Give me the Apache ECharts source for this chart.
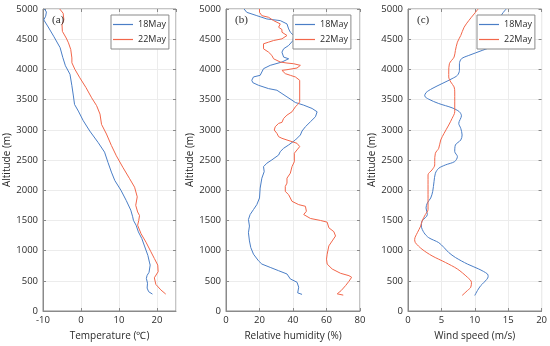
<!DOCTYPE html>
<html>
<head>
<meta charset="utf-8">
<script src="https://cdn.jsdelivr.net/npm/echarts@6/dist/echarts.min.js"></script>
<style>html,body{margin:0;padding:0;background:#fff}#c{width:550px;height:346px}</style>
</head>
<body>
<div id="c"></div>
<script>
// ---- Data (altitude in m) ----
var seriesNames = ['18May', '22May'];
var altTicks = [0, 500, 1000, 1500, 2000, 2500, 3000, 3500, 4000, 4500, 5000];

// (a) Temperature
var tempAlt18 = [5000,4950,4880,4820,4720,4550,4360,4200,4060,3920,3730,3560,3420,3310,3150,2980,2790,2630,2460,2300,2160,2000,1830,1670,1560,1500,1420,1310,1200,1060,920,810,760,640,590,540,460,380,320,280];
var temp18    = [-9.6,-9.1,-9.3,-9.8,-8.8,-7.2,-5.5,-4.8,-4.1,-2.9,-2.4,-2.0,-1.7,-0.7,0.6,2.3,4.5,6.2,7.1,8.0,8.9,10.5,11.9,13.1,13.6,13.8,14.5,15.1,16.0,16.8,17.6,18.0,18.2,17.9,17.4,17.2,17.5,17.4,17.8,18.8];
var tempAlt22 = [5000,4930,4820,4740,4630,4520,4440,4330,4190,4110,4000,3860,3700,3530,3400,3260,3090,2930,2740,2570,2380,2190,2050,1890,1750,1640,1580,1500,1420,1280,1140,980,870,760,650,550,440,350,280];
var temp22    = [-5.6,-4.7,-4.5,-5.0,-4.9,-3.9,-3.3,-2.7,-2.4,-2.4,-1.6,-0.3,1.3,2.8,4.1,5.0,5.4,6.7,8.0,9.3,11.0,12.8,14.1,14.8,14.4,14.9,15.4,15.2,14.9,15.8,17.1,18.4,19.3,20.2,20.3,19.3,19.7,21.0,22.3];

// (b) Relative humidity
var rhAlt18 = [5000,4945,4890,4835,4808,4753,4670,4616,4561,4478,4396,4341,4286,4204,4176,4122,4067,4012,3902,3875,3820,3781,3737,3682,3655,3600,3545,3490,3452,3408,3353,3298,3271,3216,3133,3051,2980,2914,2831,2749,2694,2639,2582,2557,2502,2447,2390,2308,2199,2035,1871,1761,1679,1597,1515,1406,1296,1160,1050,941,831,777,722,667,613,531,476,394,300,275];
var rh18    = [10.8,12.4,18.4,24.4,32.4,36.4,37.4,38.4,40.4,40.0,37.4,34.4,33.4,34.4,37.4,33.4,26.4,22.4,20.4,16.4,15.4,16.0,19.4,25.4,30.4,33.4,36.4,39.4,41.4,46.4,51.4,54.4,55.0,53.4,50.4,47.4,45.4,44.4,41.4,37.4,34.4,32.4,31.4,30.4,27.4,24.4,22.4,22.8,21.4,20.4,20.0,18.4,16.4,14.4,13.4,14.0,13.4,14.0,14.8,16.4,19.4,21.4,26.4,31.4,36.4,38.4,42.4,43.4,42.8,45.4];
var rhAlt22 = [5000,4945,4890,4863,4808,4780,4753,4698,4660,4616,4561,4506,4478,4451,4424,4396,4341,4286,4231,4176,4122,4105,4094,4067,4023,3995,3984,3930,3902,3875,3820,3463,3419,3380,3298,3243,3188,3123,3106,3051,2996,2941,2886,2859,2831,2804,2776,2722,2667,2612,2472,2390,2281,2199,2117,2062,1980,1925,1871,1816,1761,1734,1652,1597,1532,1499,1471,1378,1313,1242,1160,1078,941,859,777,695,624,585,558,492,421,339,284,263];
var rh22    = [20.0,20.0,21.4,25.4,28.4,29.4,32.4,31.4,33.4,33.4,36.4,33.4,28.4,25.4,22.4,21.4,22.4,25.4,27.4,28.4,32.4,36.4,40.4,44.4,42.4,36.4,33.4,35.4,38.4,41.4,44.0,44.0,42.8,41.4,39.4,36.4,34.4,33.4,31.4,29.4,28.8,30.4,31.4,33.4,36.4,39.4,42.4,44.0,42.4,40.8,40.8,39.4,38.4,36.4,36.4,35.4,35.4,37.4,38.4,39.4,43.4,47.4,48.0,46.4,50.4,56.4,60.4,61.4,64.4,65.4,63.4,61.4,60.4,60.0,60.4,63.4,68.4,73.4,75.0,73.4,71.4,68.8,66.4,70.0];

// (c) Wind speed
var wsAlt18 = [5000,4918,4808,4643,4478,4396,4314,4231,4176,4094,3984,3902,3847,3765,3682,3616,3562,3507,3435,3364,3298,3232,3106,3024,2914,2831,2749,2639,2557,2475,2418,2363,2281,2144,1980,1871,1789,1707,1597,1488,1406,1296,1214,1132,1050,968,886,777,695,613,569,476,421,339,257];
var ws18    = [14.7,14.1,13.6,13.4,13.4,12.9,11.1,9.1,8.0,7.7,7.7,7.4,6.6,5.1,3.6,2.7,2.5,3.1,4.6,6.6,7.7,8.0,7.6,7.9,8.1,7.9,7.1,7.0,7.4,7.0,5.6,4.6,4.1,3.9,3.7,3.4,2.9,2.7,2.9,2.1,2.0,2.4,3.1,4.6,5.4,6.1,7.1,8.9,10.6,11.9,12.0,11.4,10.9,10.4,10.0];
var wsAlt22 = [5000,4918,4808,4698,4561,4451,4314,4204,4094,3957,3875,3792,3710,3627,3298,3188,3079,2941,2831,2694,2612,2475,2418,2336,2254,1925,1679,1597,1488,1406,1296,1187,1132,1023,913,804,695,558,476,394,339,257];
var ws22    = [10.5,9.9,9.1,8.4,7.9,7.4,7.1,6.9,6.2,6.1,6.1,6.4,6.9,7.0,7.0,6.6,6.1,5.4,4.9,4.6,4.1,4.0,4.0,3.6,3.0,3.0,3.0,2.6,2.1,1.9,1.4,1.0,1.1,2.1,3.6,5.6,7.4,8.9,9.5,9.4,8.9,8.1];

var panelLabels = ['(a)', '(b)', '(c)'];
var xNames = ['Temperature (\u2103)', 'Relative humidity (%)', 'Wind speed (m/s)'];
var xMin = [-10, 0, 0], xMax = [25, 80, 20], xInt = [10, 20, 5];
var yName = 'Altitude (m)';

// ---- Build chart ----
function zip(v, a) { return v.map(function (x, i) { return [x, a[i]]; }); }
var BLUE = '#4a7ec6', RED = '#f2664a';
var gridLeft = [43, 226, 408], gridW = [133, 134, 134], gridTop = 9, gridH = 304;
var legendLeft = [111, 293, 477];
var font = 'Open Sans';
var axisCol = '#8a8a8a', txtCol = '#2b2b2b';
function plain(v) { return String(v); }

var grids = [], xAxes = [], yAxes = [], legends = [], graphics = [];
for (var i = 0; i < 3; i++) {
  grids.push({ left: gridLeft[i], top: gridTop, width: gridW[i], height: gridH, show: true, borderColor: axisCol, borderWidth: 1, backgroundColor: '#fff' });
  xAxes.push({
    type: 'value', gridIndex: i, min: xMin[i], max: xMax[i], interval: xInt[i], position: 'bottom',
    name: xNames[i], nameLocation: 'middle', nameGap: 20,
    nameTextStyle: { fontSize: 10, fontFamily: font, color: txtCol },
    axisLine: { show: true, onZero: false, lineStyle: { color: axisCol } },
    axisTick: { show: true, inside: true, length: 3, lineStyle: { color: axisCol } },
    axisLabel: { fontSize: 9.5, fontFamily: font, color: txtCol, margin: 4, showMaxLabel: i !== 0, formatter: plain },
    splitLine: { show: true, lineStyle: { color: '#ececec', width: 1 } }
  });
  yAxes.push({
    type: 'value', gridIndex: i, min: 0, max: 5000, interval: 500, position: 'left',
    name: yName, nameLocation: 'middle', nameGap: 27,
    nameTextStyle: { fontSize: 10, fontFamily: font, color: txtCol },
    axisLine: { show: true, onZero: false, lineStyle: { color: axisCol } },
    axisTick: { show: true, inside: true, length: 3, lineStyle: { color: axisCol } },
    axisLabel: { fontSize: 9.5, fontFamily: font, color: txtCol, margin: 5, formatter: plain },
    splitLine: { show: true, lineStyle: { color: '#ececec', width: 1 } }
  });
  legends.push({
    data: seriesNames, orient: 'vertical', left: legendLeft[i], top: 15,
    icon: 'rect', itemWidth: 20, itemHeight: 1.2, itemGap: 4, padding: [4, 3, 4, 2],
    borderColor: '#8a8a8a', borderWidth: 1, backgroundColor: '#fff',
    textStyle: { fontSize: 9, fontFamily: font, color: txtCol, lineHeight: 11 }
  });
  graphics.push({ type: 'text', left: gridLeft[i] + 9, top: 15, z: 10,
    style: { text: panelLabels[i], font: '11px "Liberation Serif"', fill: txtCol } });
}
// mirrored axes (top/right ticks, box style)
for (var j = 0; j < 3; j++) {
  xAxes.push({ type: 'value', gridIndex: j, min: xMin[j], max: xMax[j], interval: xInt[j], position: 'top',
    axisLine: { show: false, onZero: false }, axisTick: { show: true, inside: true, length: 3, lineStyle: { color: axisCol } },
    axisLabel: { show: false }, splitLine: { show: false } });
  yAxes.push({ type: 'value', gridIndex: j, min: 0, max: 5000, interval: 500, position: 'right',
    axisLine: { show: false, onZero: false }, axisTick: { show: true, inside: true, length: 3, lineStyle: { color: axisCol } },
    axisLabel: { show: false }, splitLine: { show: false } });
}

var data = [[zip(temp18, tempAlt18), zip(temp22, tempAlt22)],
            [zip(rh18, rhAlt18), zip(rh22, rhAlt22)],
            [zip(ws18, wsAlt18), zip(ws22, wsAlt22)]];
var series = [];
for (var k = 0; k < 3; k++) {
  series.push({ name: seriesNames[0], type: 'line', xAxisIndex: k, yAxisIndex: k, data: data[k][0], symbol: 'none',
    smooth: k === 2 ? 0.3 : false, lineStyle: { color: BLUE, width: 1 }, itemStyle: { color: BLUE } });
  series.push({ name: seriesNames[1], type: 'line', xAxisIndex: k, yAxisIndex: k, data: data[k][1], symbol: 'none',
    smooth: k === 2 ? 0.3 : false, lineStyle: { color: RED, width: 1 }, itemStyle: { color: RED } });
}

var chart = echarts.init(document.getElementById('c'), null, { renderer: 'canvas' });
chart.setOption({
  animation: false,
  backgroundColor: '#fff',
  grid: grids, xAxis: xAxes, yAxis: yAxes, legend: legends, series: series, graphic: graphics
});
</script>
</body>
</html>
